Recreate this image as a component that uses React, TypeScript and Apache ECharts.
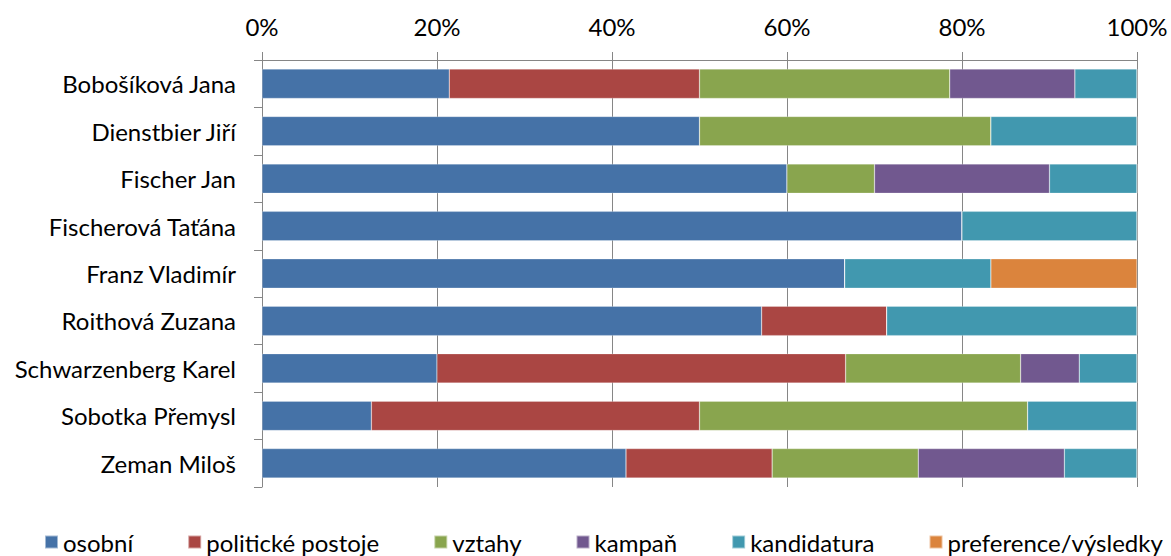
import React, { useEffect, useRef } from "react";
import * as echarts from "echarts";

const categories = [
  "Bobošíková Jana",
  "Dienstbier Jiří",
  "Fischer Jan",
  "Fischerová Taťána",
  "Franz Vladimír",
  "Roithová Zuzana",
  "Schwarzenberg Karel",
  "Sobotka Přemysl",
  "Zeman Miloš",
];

const osobni = [21.4, 50, 60, 80, 66.6, 57.1, 20, 12.5, 41.6];
const politickePostoje = [28.6, 0, 0, 0, 0, 14.3, 46.7, 37.5, 16.7];
const vztahy = [28.6, 33.3, 10, 0, 0, 0, 20, 37.5, 16.7];
const kampan = [14.3, 0, 20, 0, 0, 0, 6.7, 0, 16.7];
const kandidatura = [7.1, 16.7, 10, 20, 16.7, 28.6, 6.6, 12.5, 8.3];
const preference = [0, 0, 0, 0, 16.7, 0, 0, 0, 0];

const seriesNames = [
  "osobní",
  "politické postoje",
  "vztahy",
  "kampaň",
  "kandidatura",
  "preference/výsledky",
];
const seriesData = [osobni, politickePostoje, vztahy, kampan, kandidatura, preference];
const colors = ["#4572A7", "#AA4643", "#89A54E", "#71588F", "#4198AF", "#DB843D"];

const FONT = "Lato, 'Open Sans', sans-serif";
const FS = 24;

export default function App() {
  const ref = useRef<HTMLDivElement>(null);
  useEffect(() => {
    if (!ref.current) return;
    const chart = echarts.init(ref.current, undefined, { renderer: "svg" });
    chart.setOption({
      animation: false,
      color: colors,
      textStyle: { fontFamily: FONT },
      grid: { left: 262, right: 34, top: 60, bottom: 69, containLabel: false },
      legend: {
        top: 530,
        left: 44,
        padding: 0,
        icon: "rect",
        itemWidth: 13,
        itemHeight: 13,
        itemGap: 54,
        textStyle: { fontSize: FS, color: "#000", fontFamily: FONT },
        data: seriesNames,
      },
      xAxis: {
        type: "value",
        position: "top",
        min: 0,
        max: 100,
        interval: 20,
        axisLine: { show: true, lineStyle: { color: "#868686", width: 1 } },
        axisTick: { show: true, length: 8, lineStyle: { color: "#868686" } },
        splitLine: { show: true, lineStyle: { color: "#868686", width: 1 } },
        axisLabel: {
          formatter: "{value}%",
          fontSize: FS,
          color: "#000",
          margin: 22,
          fontFamily: FONT,
        },
      },
      yAxis: {
        type: "category",
        inverse: true,
        data: categories,
        axisLine: { show: true, lineStyle: { color: "#868686", width: 1 } },
        axisTick: { show: true, length: 8, lineStyle: { color: "#868686" } },
        axisLabel: { fontSize: FS, color: "#000", margin: 26, fontFamily: FONT },
      },
      series: seriesNames.map((name, i) => ({
        name,
        type: "bar",
        stack: "total",
        barWidth: "62%",
        data: seriesData[i],
        itemStyle: { borderColor: "rgba(255,255,255,0.5)", borderWidth: 0.5 },
      })),
    });
    return () => chart.dispose();
  }, []);
  return (
    <div
      ref={ref}
      style={{ position: "fixed", left: 0, top: 0, width: 1171, height: 556, background: "#fff" }}
    />
  );
}
